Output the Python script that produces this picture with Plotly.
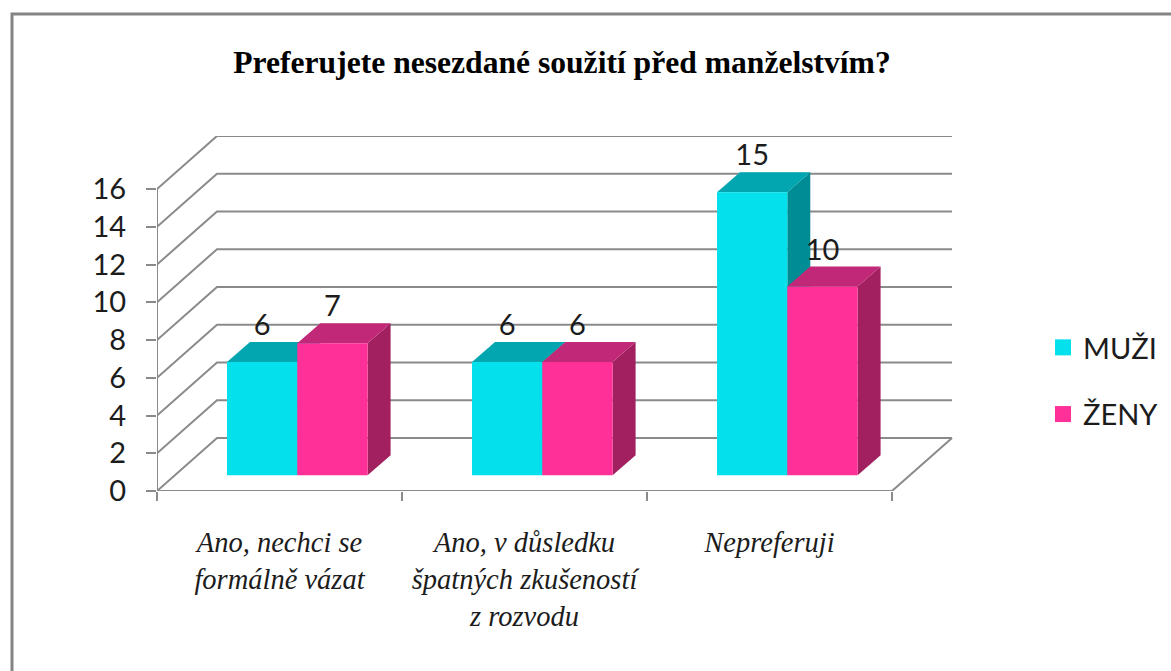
import plotly.graph_objects as go

TITLE = "Preferujete nesezdané soužití před manželstvím?"
categories = ["Ano, nechci se<br>formálně vázat",
              "Ano, v důsledku<br>špatných zkušeností<br>z rozvodu",
              "Nepreferuji"]
muzi = [6, 6, 15]
zeny = [7, 6, 10]
y_ticks = list(range(0, 17, 2))

W, H = 1171, 671
L, R, T, B = 157, 953, 136, 491          # plot box in page pixels
X_UNIT = (892 - 157) / 3                 # px per category
Y_UNIT = (491 - 189) / 16                # px per value
X_MAX = (R - L) / X_UNIT
Y_MAX = (B - T) / Y_UNIT
WALL_DX, WALL_DY = 60 / X_UNIT, 53 / Y_UNIT     # floor depth
BAR_DX, BAR_DY = 23 / X_UNIT, 20 / Y_UNIT       # bar depth
BAR_X0 = 70 / X_UNIT                     # first bar offset inside a category
BAR_W = 70.3 / X_UNIT
BAR_LIFT = 15.7 / Y_UNIT                 # front of bars above the zero line
LABEL_UP = 34 / Y_UNIT

GRID = "#8a8a8a"
FONT_NUM = "Lato, Liberation Sans, sans-serif"
FONT_SERIF = "Liberation Serif, serif"
TEXT = "#1c1c1c"
styles = {
    "MUŽI": dict(front="#04E0EC", top="#02A6B0", side="#008C94"),
    "ŽENY": dict(front="#FF3098", top="#C22878", side="#A2205F"),
}

fig = go.Figure()

# wall and floor lines
gx, gy = [], []
for v in y_ticks:
    gx += [0, WALL_DX, 3 + WALL_DX, None]
    gy += [v, v + WALL_DY, v + WALL_DY, None]
gx += [0, 0, None, 0, 3, 3 + WALL_DX]
gy += [0, y_ticks[-1], None, 0, 0, WALL_DY]
fig.add_trace(go.Scatter(x=gx, y=gy, mode="lines", line=dict(color=GRID, width=2),
                         showlegend=False, hoverinfo="skip", cliponaxis=False))


def faces(values, slot):
    fx, fy = [], []
    tx, ty = [], []
    sx, sy = [], []
    for i, v in enumerate(values):
        x0 = i + BAR_X0 + slot * BAR_W
        x1 = x0 + BAR_W
        y0 = BAR_LIFT
        y1 = BAR_LIFT + v
        fx += [x0, x1, x1, x0, x0, None]
        fy += [y0, y0, y1, y1, y0, None]
        tx += [x0, x1, x1 + BAR_DX, x0 + BAR_DX, x0, None]
        ty += [y1, y1, y1 + BAR_DY, y1 + BAR_DY, y1, None]
        sx += [x1, x1 + BAR_DX, x1 + BAR_DX, x1, x1, None]
        sy += [y0, y0 + BAR_DY, y1 + BAR_DY, y1, y0, None]
    return (fx, fy), (tx, ty), (sx, sy)


series = [("MUŽI", muzi), ("ŽENY", zeny)]
for slot, (name, values) in enumerate(series):
    f, t, s = faces(values, slot)
    st = styles[name]
    for (px, py), col in ((s, st["side"]), (t, st["top"]), (f, st["front"])):
        fig.add_trace(go.Scatter(x=px, y=py, mode="lines", fill="toself", fillcolor=col,
                                 line=dict(width=0, color=col), showlegend=False,
                                 hoverinfo="skip", name=name))

# data labels
for slot, (name, values) in enumerate(series):
    fig.add_trace(go.Scatter(
        x=[i + BAR_X0 + slot * BAR_W + BAR_W / 2 for i in range(len(values))],
        y=[v + BAR_LIFT + LABEL_UP for v in values],
        mode="text", text=[str(v) for v in values], textposition="middle center",
        textfont=dict(family=FONT_NUM, size=29, color=TEXT),
        showlegend=False, hoverinfo="skip", cliponaxis=False))

# legend entries
for name, _ in series:
    fig.add_trace(go.Scatter(x=[None], y=[None], mode="markers", name=name, legendgroup=name,
                             marker=dict(symbol="square", size=16, color=styles[name]["front"])))

px_x = lambda p: (p - L) / (W - L)
px_y = lambda p: (B - p) / (B - T)

fig.update_layout(
    width=W, height=H, autosize=False,
    margin=dict(l=L, r=0, t=T, b=H - B),
    paper_bgcolor="white", plot_bgcolor="white",
    title=dict(text=f"<b>{TITLE}</b>", x=562 / W, xanchor="center", y=1 - 62 / H, yanchor="middle",
               font=dict(family=FONT_SERIF, size=31.6, color="black")),
    xaxis=dict(range=[0, X_MAX], domain=[0, px_x(R)], showgrid=False, zeroline=False, showline=False,
               tickmode="array", tickvals=[0.5, 1.5, 2.5], ticktext=categories,
               ticks="", ticklabelstandoff=31,
               tickfont=dict(family=FONT_SERIF, size=28.5, style="italic", color=TEXT),
               minor=dict(ticks="outside", ticklen=9, tickwidth=2, tickcolor=GRID,
                          tickmode="array", tickvals=[0, 1, 2, 3])),
    yaxis=dict(range=[0, Y_MAX], showgrid=False, zeroline=False, showline=False,
               tickmode="array", tickvals=y_ticks, ticks="outside", ticklen=10, tickwidth=2,
               tickcolor=GRID, ticklabelstandoff=14,
               tickfont=dict(family=FONT_NUM, size=29, color=TEXT)),
    legend=dict(x=px_x(1043), xanchor="left", y=px_y(322), yanchor="top",
                tracegroupgap=26, bgcolor="rgba(0,0,0,0)", itemclick=False,
                font=dict(family=FONT_NUM, size=29, color=TEXT)),
    shapes=[dict(type="path", xref="paper", yref="paper",
                 path=f"M {px_x(12)},{px_y(H + 5)} L {px_x(12)},{px_y(14)} L {px_x(W + 5)},{px_y(14)}",
                 line=dict(color="#848484", width=3))],
)

fig.write_html("out.html", config=dict(displayModeBar=False),
               post_script="document.body.style.margin='0';document.body.style.overflow='hidden';")
